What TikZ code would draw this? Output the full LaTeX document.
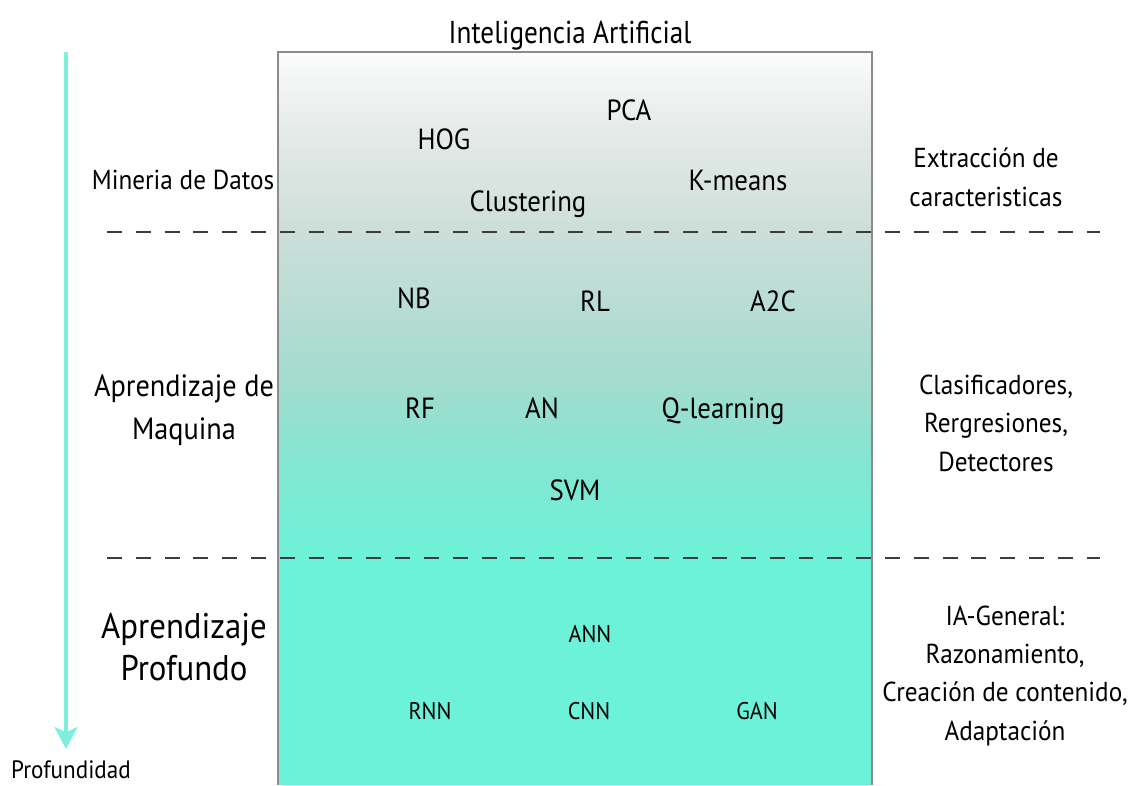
\documentclass[tikz,border=0pt]{standalone}
\usepackage{fontspec}
\setmainfont{PT Sans}[FakeStretch=0.92]
\newfontfamily\headfont{PT Sans}[FakeStretch=0.86]
\usetikzlibrary{arrows.meta}

\definecolor{tealfill}{RGB}{108,242,216}
\definecolor{arrowteal}{RGB}{125,240,220}
\definecolor{framegray}{RGB}{140,140,140}
\definecolor{dashgray}{RGB}{60,60,60}

% vertical blend from a pale grey top to the teal of the lowest band
\pgfdeclareverticalshading{layershade}{100bp}{%
  rgb(0bp)=(0.424,0.949,0.847);
  rgb(25bp)=(0.424,0.949,0.847);
  rgb(34.84bp)=(0.52,0.90,0.82);
  rgb(42.72bp)=(0.64,0.86,0.81);
  rgb(57.28bp)=(0.80,0.87,0.85);
  rgb(67.32bp)=(0.90,0.92,0.915);
  rgb(75bp)=(0.985,0.985,0.985);
  rgb(100bp)=(0.985,0.985,0.985)}

\tikzset{
  lbl/.style={inner sep=0pt, anchor=base, align=center, text=black},
  item/.style={lbl, font=\fontsize{16.6}{19}\selectfont},
  small/.style={lbl, font=\fontsize{13.7}{16}\selectfont},
  side/.style={lbl, font=\fontsize{15.6}{21.8}\selectfont},
  layer/.style={lbl, font=\fontsize{17.5}{24.4}\selectfont},
  biglayer/.style={lbl, font=\fontsize{20.3}{23.8}\selectfont},
  separator/.style={draw=dashgray, line width=0.85pt, dash pattern=on 8.5pt off 7.9pt},
}

\begin{document}
\begin{tikzpicture}[x=0.02cm, y=-0.02cm]
\useasboundingbox (0,0) rectangle (1129,785);

% the shaded frame
\shade[shading=layershade] (278,52) rectangle (872,560);
\fill[tealfill] (278,559.5) rectangle (872,785);
\draw[framegray, line width=1.3pt] (278,785) -- (278,52) -- (872,52) -- (872,785);

% band separators
\coordinate (s1a) at (107,232);
\coordinate (s1b) at (1100,232);
\coordinate (s2a) at (107,558);
\coordinate (s2b) at (1100,558);
\draw[separator] (s1a) -- (s1b);
\draw[separator] (s2a) -- (s2b);

% depth arrow
\coordinate (arrowtop) at (66,52);
\coordinate (arrowtip) at (66,749);
\draw[arrowteal, line width=2.3pt, -{Stealth[length=12.5pt, width=13pt, inset=3pt]}] (arrowtop) -- (arrowtip);
\node[lbl, font=\fontsize{14.3}{16}\selectfont] (depth) at (71,778) {Profundidad};

% title
\node[lbl, font=\headfont\fontsize{18}{21}\selectfont] (title) at (570,43) {Inteligencia Artificial};

% data mining band
\node[side] (mineria) at (183,189) {Mineria de Datos};
\node[item] (hog) at (444,149) {HOG};
\node[item] (pca) at (629,120) {PCA};
\node[item] (clustering) at (528,211) {Clustering};
\node[item] (kmeans) at (738,190) {K-means};
\node[side] (extraccion) at (986,206) {Extracción de\\caracteristicas};

% machine learning band
\node[layer] (aprendizaje) at (184,439) {Aprendizaje de\\Maquina};
\node[item] (nb) at (414,308) {NB};
\node[item] (rl) at (595,311) {RL};
\node[item] (a2c) at (773,311) {A2C};
\node[item] (rf) at (420,418) {RF};
\node[item] (an) at (542,418) {AN};
\node[item] (qlearning) at (723,418) {Q-learning};
\node[item] (svm) at (575,500) {SVM};
\node[side] (clasificadores) at (996,471) {Clasificadores,\\Rergresiones,\\Detectores};

% deep learning band
\node[biglayer] (profundo) at (184,680) {Aprendizaje\\Profundo};
\node[small] (ann) at (590,642) {ANN};
\node[small] (rnn) at (430,719) {RNN};
\node[small] (cnn) at (589,719) {CNN};
\node[small] (gan) at (757,719) {GAN};
\node[side] (general) at (1005,740) {IA-General:\\Razonamiento,\\Creación de contenido,\\Adaptación};
\end{tikzpicture}
\end{document}
